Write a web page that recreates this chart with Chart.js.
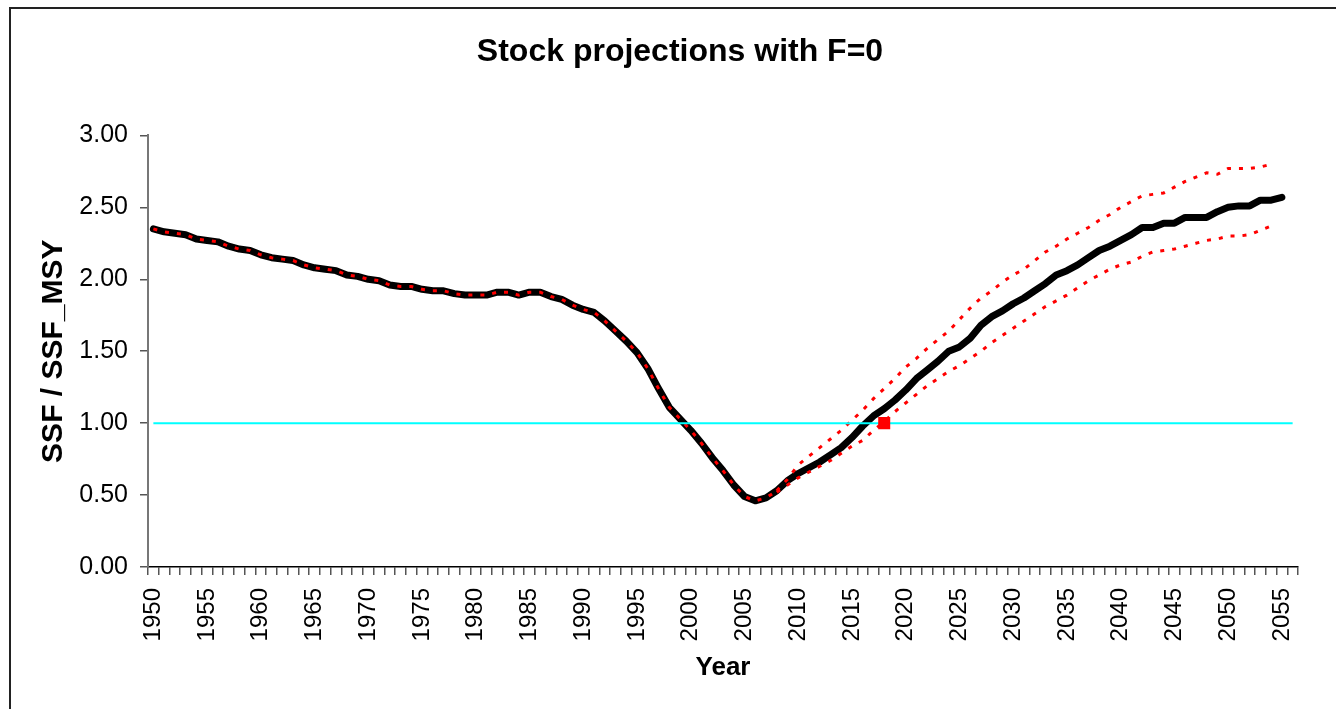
<!DOCTYPE html>
<html>
<head>
<meta charset="utf-8">
<title>Stock projections with F=0</title>
<script src="https://cdn.jsdelivr.net/npm/chart.js@4"></script>
<style>
    html, body { margin: 0; padding: 0; background: #fff; overflow: hidden; }
    #frame {
        position: absolute; left: 9px; top: 7px;
        width: 1340px; height: 720px;
        border-left: 2px solid #222; border-top: 2px solid #222;
    }
    #stockChart { position: absolute; left: 0; top: 0; }
</style>
</head>
<body>
<div id="frame"></div>
<canvas id="stockChart" width="1336" height="709"></canvas>
<script>
// Tahun 1950 - 2056 (kategori terakhir tanpa label)
const years = [];
for (let y = 1950; y <= 2056; y++) years.push(String(y));

// SSF / SSF_MSY, median (1950 - 2055)
const ratio = [
    2.35, 2.33, 2.32, 2.31, 2.28, 2.27, 2.26, 2.23, 2.21, 2.20,
    2.17, 2.15, 2.14, 2.13, 2.10, 2.08, 2.07, 2.06, 2.03, 2.02,
    2.00, 1.99, 1.96, 1.95, 1.95, 1.93, 1.92, 1.92, 1.90, 1.89,
    1.89, 1.89, 1.91, 1.91, 1.89, 1.91, 1.91, 1.88, 1.86, 1.82,
    1.79, 1.77, 1.71, 1.64, 1.57, 1.49, 1.38, 1.24, 1.11, 1.03,
    0.95, 0.86, 0.76, 0.67, 0.57, 0.49, 0.46, 0.48, 0.53, 0.60,
    0.65, 0.69, 0.73, 0.78, 0.83, 0.90, 0.98, 1.05, 1.10, 1.16,
    1.23, 1.31, 1.37, 1.43, 1.50, 1.53, 1.59, 1.68, 1.74, 1.78,
    1.83, 1.87, 1.92, 1.97, 2.03, 2.06, 2.10, 2.15, 2.20, 2.23,
    2.27, 2.31, 2.36, 2.36, 2.39, 2.39, 2.43, 2.43, 2.43, 2.47,
    2.50, 2.51, 2.51, 2.55, 2.55, 2.57
];

// Batas atas / bawah proyeksi, mulai 2008 sampai 2054
const projStart = 2008;
const upper = [
    0.53, 0.61, 0.71, 0.77, 0.83, 0.89, 0.95, 1.02, 1.09, 1.17,
    1.24, 1.31, 1.39, 1.45, 1.52, 1.58, 1.64, 1.72, 1.80, 1.87,
    1.92, 1.98, 2.03, 2.07, 2.13, 2.19, 2.23, 2.28, 2.32, 2.36,
    2.41, 2.45, 2.50, 2.54, 2.58, 2.59, 2.60, 2.64, 2.68, 2.71,
    2.74, 2.73, 2.77, 2.77, 2.77, 2.78, 2.80
];
const lower = [
    0.52, 0.57, 0.62, 0.66, 0.70, 0.74, 0.79, 0.84, 0.88, 0.95,
    1.01, 1.08, 1.14, 1.20, 1.26, 1.31, 1.36, 1.40, 1.45, 1.50,
    1.56, 1.61, 1.66, 1.71, 1.76, 1.81, 1.85, 1.89, 1.94, 1.99,
    2.03, 2.07, 2.10, 2.12, 2.16, 2.19, 2.20, 2.21, 2.23, 2.25,
    2.27, 2.28, 2.30, 2.30, 2.31, 2.34, 2.37
];

// Titik referensi SSF_MSY
const refYear = '2018';
const refValue = 1.00;

const yTicks = [0, 0.5, 1, 1.5, 2, 2.5, 3];

// Bantu: sejajarkan seri pendek ke kategori tahun
const pad = (start, vals) => years.map((y, i) => {
    const k = Number(y) - start;
    return k >= 0 && k < vals.length ? vals[k] : null;
});

const hist = years.map((y, i) => Number(y) <= projStart ? ratio[i] : null);
const garisMsy = years.map(() => refValue);
const titikRef = years.map(y => y === refYear ? refValue : null);

const font = 'Liberation Sans, Arial, sans-serif';
const dotted = [4, 8];

new Chart(document.getElementById('stockChart'), {
    type: 'line',
    data: {
        labels: years,
        datasets: [
            {
                data: titikRef,
                showLine: false,
                pointStyle: 'rect',
                pointRadius: 8.5,
                backgroundColor: '#FF0000',
                borderColor: '#FF0000',
                borderWidth: 0,
                order: 0
            },
            {
                data: garisMsy,
                borderColor: '#00FFFF',
                borderWidth: 2,
                pointRadius: 0,
                order: 1
            },
            {
                data: hist,
                borderColor: '#FF0000',
                borderWidth: 3,
                borderDash: dotted,
                pointRadius: 0,
                order: 2
            },
            {
                data: pad(projStart, upper),
                borderColor: '#FF0000',
                borderWidth: 3,
                borderDash: dotted,
                pointRadius: 0,
                order: 3
            },
            {
                data: pad(projStart, lower),
                borderColor: '#FF0000',
                borderWidth: 3,
                borderDash: dotted,
                pointRadius: 0,
                order: 3
            },
            {
                data: ratio,
                borderColor: '#000000',
                borderWidth: 7,
                borderCapStyle: 'round',
                borderJoinStyle: 'round',
                pointRadius: 0,
                order: 4
            }
        ]
    },
    options: {
        responsive: false,
        animation: false,
        events: [],
        layout: { padding: { left: 62, right: 38, top: 0, bottom: 0 } },
        plugins: {
            legend: { display: false },
            tooltip: { enabled: false },
            title: {
                display: true,
                text: 'Stock projections with F=0',
                color: '#000',
                font: { family: font, size: 32, weight: 'bold' },
                padding: { top: 33, bottom: 64 }
            }
        },
        scales: {
            x: {
                offset: true,
                border: { color: '#000', width: 1.5 },
                grid: {
                    offset: true,
                    drawOnChartArea: false,
                    drawTicks: true,
                    tickLength: 8,
                    color: '#555',
                    lineWidth: 1.5
                },
                ticks: {
                    autoSkip: false,
                    minRotation: 90,
                    maxRotation: 90,
                    padding: 13,
                    color: '#000',
                    font: { family: font, size: 24 },
                    callback: function (val) {
                        const y = Number(this.getLabelForValue(val));
                        return y % 5 === 0 && y <= 2055 ? String(y) : '';
                    }
                },
                title: {
                    display: true,
                    text: 'Year',
                    color: '#000',
                    font: { family: font, size: 26, weight: 'bold' },
                    padding: { top: 0, bottom: 26 }
                },
                afterFit: s => { s.height = 142; }
            },
            y: {
                min: 0,
                max: 3,
                border: { color: '#777', width: 2 },
                grid: {
                    drawOnChartArea: false,
                    drawTicks: true,
                    tickLength: 8,
                    color: '#555',
                    lineWidth: 1.5
                },
                afterBuildTicks: s => { s.ticks = yTicks.map(v => ({ value: v })); },
                ticks: {
                    padding: 12,
                    color: '#000',
                    font: { family: font, size: 25 },
                    callback: v => Number(v).toFixed(2)
                },
                title: {
                    display: true,
                    text: 'SSF / SSF_MSY',
                    color: '#000',
                    font: { family: font, size: 30, weight: 'bold' },
                    padding: { top: -26, bottom: 0 }
                },
                afterFit: s => { s.width = 86; }
            }
        }
    }
});
</script>
</body>
</html>
